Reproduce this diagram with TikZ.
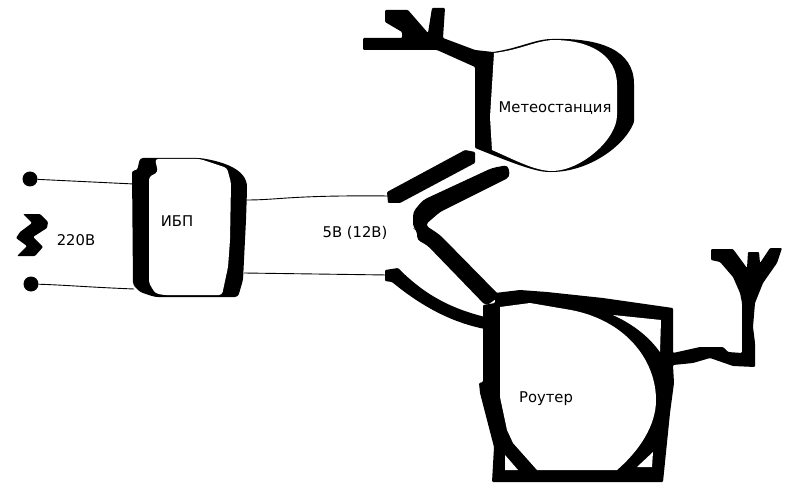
\documentclass[tikz,border=0pt]{standalone}
\usepackage{fontspec}
\setmainfont{DejaVu Sans}
\usetikzlibrary{positioning,calc}
\begin{document}
\begin{tikzpicture}[
  x=1pt, y=-1pt,
  blob/.style={fill=black, rounded corners=1pt},
  hole/.style={fill=white, rounded corners=3pt},
  wire/.style={draw, line width=0.9pt},
  dot/.style={circle, fill=black, minimum size=15pt, inner sep=0pt},
  lab/.style={font=\fontsize{14.8}{17}\selectfont, inner sep=0pt}
]
\useasboundingbox (0,0) rectangle (800,497);
% wires
\node[dot] (mainsa) at (30,179) {};
\node[dot] (mainsb) at (31,284) {};
\coordinate (upsa) at (134,184);
\coordinate (upsb) at (134,289);
\coordinate (upsc) at (246,200);
\coordinate (upsd) at (244,273);
\coordinate (feeda) at (390,196);
\coordinate (feedb) at (387,275);
\draw[wire] (mainsa) -- (upsa);
\draw[wire] (mainsb) .. controls (65,285) and (85,287) .. (upsb);
\draw[wire] (upsc) .. controls (280,200) and (290,195) .. (feeda);
\draw[wire] (upsd) -- (feedb);
% mains sign
\fill[blob] (23,214) -- (40,214) -- (48,222) -- (47,228) -- (33,237) -- (43,247) -- (35,256) -- (17,256) -- (27,246) -- (16,238) -- (20,232) -- (32,223) -- cycle;
% ups
\fill[blob, rounded corners=3pt] (137,171) -- (140,158) -- (200,158) .. controls (225,162) and (247,170) .. (247,190) -- (246,220) -- (243,280) -- (238,297) -- (155,297) -- (140,292) -- (133,285) -- (132,170) -- cycle;
\fill[hole] (155,159) -- (158,172) -- (149,177) -- (149,283) -- (155,293) -- (163,295) -- (222,295) -- (228,267) -- (230,240) -- (231,183) -- (227,168) -- (200,159) -- cycle;
% station
\fill[blob] (363,38) -- (402,38) -- (402,32) -- (385,22) -- (385,10) -- (408,10) -- (428,33) -- (432,8) -- (445,8) -- (443,38) -- (475,50) -- (493,52) .. controls (520,48) and (535,39) .. (553,39) .. controls (600,38) and (634,50) .. (634,85) -- (634,122) .. controls (625,145) and (590,172) .. (550,172) .. controls (535,172) and (510,162) .. (475,148) -- (475,67) -- (437,50) -- (363,50) -- cycle;
\fill[white] (494,53) .. controls (520,50) and (535,41) .. (553,40) .. controls (590,40) and (617,55) .. (617,85) -- (617,115) .. controls (617,140) and (580,171) .. (552,171) .. controls (535,171) and (515,160) .. (492,150) -- (490,117) -- cycle;
% power lines
\fill[blob] (387,192) -- (465,150) -- (475,152) -- (475,163) -- (400,203) -- (388,203) -- cycle;
\fill[blob, rounded corners=4pt] (492,168) -- (508,165) -- (510,177) -- (498,183) -- (440,212) -- (425,225) -- (440,235) -- (500,296) -- (486,306) -- (427,245) -- (417,240) -- (417,230) -- (413,228) -- (413,212) -- (423,200) -- cycle;
\fill[blob] (385,270) -- (398,268) .. controls (425,295) and (450,308) .. (485,317) -- (485,329) .. controls (450,322) and (420,305) .. (392,282) -- (385,281) -- cycle;
% router
\fill[blob] (495,293) -- (520,290) -- (547,292) -- (603,298) -- (673,308) -- (673,353) -- (700,347) -- (723,347) -- (728,352) -- (742,353) -- (742,303) -- (740,293) -- (733,277) -- (720,262) -- (711,260) -- (711,249) -- (733,249) -- (747,268) -- (748,252) -- (759,252) -- (760,263) -- (770,248) -- (782,248) -- (777,263) -- (763,283) -- (755,303) -- (753,327) -- (755,343) -- (755,367) -- (733,366) -- (710,358) -- (693,363) -- (673,365) -- (674,383) -- (670,413) -- (663,482) -- (492,482) -- (494,447) -- (480,393) -- (479,383) -- (483,382) -- (483,305) -- (495,303) -- cycle;
\fill[white] (500,307) -- (530,303) -- (565,309) .. controls (625,318) and (656,360) .. (656,400) .. controls (656,425) and (640,450) .. (617,470) -- (537,470) -- (513,443) -- (507,430) -- (500,397) -- cycle;
\fill[white] (613,315) .. controls (635,325) and (650,338) .. (660,352) -- (661,320) -- cycle;
\fill[white] (505,455) -- (505,470) -- (518,470) -- cycle;
\fill[white] (653,452) -- (652,467) -- (637,467) -- cycle;
% labels
\node[lab] (mains) at (76,240) {220В};
\node[lab] (ups) at (177,221) {ИБП};
\node[lab] (feed) at (355,233) {5В (12В)};
\node[lab] (station) at (555,108) {Метеостанция};
\node[lab] (router) at (546,399) {Роутер};
\end{tikzpicture}
\end{document}
